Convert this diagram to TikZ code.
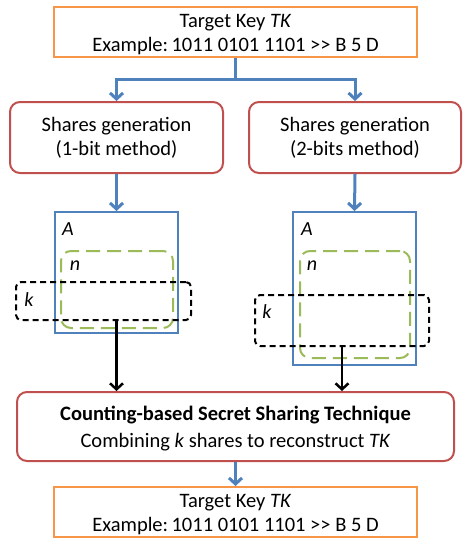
\documentclass[tikz,border=0pt]{standalone}
\usepackage{fontspec}
\setmainfont{Carlito}
\usetikzlibrary{arrows.meta}
\definecolor{keyorange}{RGB}{247,150,70}
\definecolor{procred}{RGB}{192,80,77}
\definecolor{setblue}{RGB}{79,129,189}
\definecolor{subgreen}{RGB}{155,187,89}
\begin{document}
\begin{tikzpicture}[x=1pt,y=-1pt,
  txt/.style={font=\fontsize{20.5}{24}\selectfont, align=center},
  keybox/.style={draw=keyorange, line width=2pt, fill=white,
    minimum width=363pt, minimum height=50pt, inner sep=0pt},
  keytext/.style={txt, inner sep=0pt, yshift=-3pt},
  procbox/.style={txt, draw=procred, line width=2pt, rounded corners=10pt,
    inner sep=0pt},
  setbox/.style={draw=setblue, line width=2pt, inner sep=0pt},
  subset/.style={draw=subgreen, line width=2pt, rounded corners=10pt,
    dash pattern=on 14pt off 7pt, inner sep=0pt},
  pick/.style={draw=black, line width=2pt, rounded corners=5pt,
    dash pattern=on 6pt off 4pt, inner sep=0pt},
  lbl/.style={font=\fontsize{20}{22}\selectfont\itshape, inner sep=0pt},
  flow/.style={draw=setblue, line width=3pt,
    -{Straight Barb[length=6pt,width=13pt,line width=3pt]}},
  pass/.style={draw=black, line width=2.5pt,
    -{Straight Barb[length=6pt,width=13pt,line width=2.5pt]}}
]
\useasboundingbox (0,0) rectangle (463,541);

% input key
\node[keybox] (key) at (235.5,32) {};
\node[keytext] (keyt) at (key.center) {Target Key \textit{TK}\\Example:\,1011 0101 1101 >{}> B 5 D};

% the two share generators
\node[procbox, minimum width=213pt, minimum height=71pt] (gen1) at (116.5,137.5)
  {Shares generation\\(1-bit method)};
\node[procbox, minimum width=212pt, minimum height=71pt] (gen2) at (355,137.5)
  {Shares generation\\(2-bits method)};

\coordinate (split) at (235.5,79);
\draw[setblue, line width=3pt] (key.south) -- (split);
\draw[flow] (split) -| (gen1.north);
\draw[flow] (split) -| (gen2.north);

% share sets, left
\node[setbox, minimum width=123pt, minimum height=121pt] (setA1) at (116.5,272.5) {};
\node[subset, minimum width=112pt, minimum height=77pt] (n1) at (117,289.5) {};
\node[pick, minimum width=175pt, minimum height=38pt] (k1) at (103.5,301) {};
\node[lbl] (labA1) at (68,229) {A};
\node[lbl] (labn1) at (75,266) {n};
\node[lbl] (labk1) at (29,300) {k};

% share sets, right
\node[setbox, minimum width=123pt, minimum height=153pt] (setA2) at (354.5,288.5) {};
\node[subset, minimum width=110pt, minimum height=107pt] (n2) at (355,304.5) {};
\node[pick, minimum width=174pt, minimum height=51pt] (k2) at (342,320.5) {};
\node[lbl] (labA2) at (307,229) {A};
\node[lbl] (labn2) at (312,266) {n};
\node[lbl] (labk2) at (267,312) {k};

\draw[flow] (gen1.south) -- (setA1.north);
\draw[flow] (gen2.south) -- (setA2.north);

% reconstruction
\node[procbox, minimum width=437pt, minimum height=69pt] (tech) at (235.5,426.5) {};
\node[txt, font=\fontsize{20.5}{27}\selectfont, inner sep=0pt, yshift=-2pt] (techt) at (tech.center)
  {\textbf{Counting-based Secret Sharing Technique}\\Combining \textit{k} shares to reconstruct \textit{TK}};

\draw[pass] (k1.south -| setA1.center) -- (setA1.center |- tech.north);
\draw[pass] (k2.south) -- (k2.south |- tech.north);

% output key
\node[keybox] (out) at (235.5,512) {};
\node[keytext] (outt) at (out.center) {Target Key \textit{TK}\\Example:\,1011 0101 1101 >{}> B 5 D};
\draw[flow] (tech.south) -- (out.north);
\end{tikzpicture}
\end{document}
